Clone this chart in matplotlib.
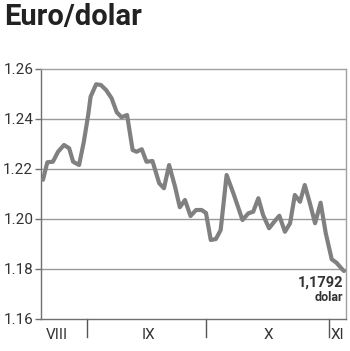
import matplotlib
matplotlib.use("Agg")
import matplotlib.pyplot as plt

# days counted from 1 August (Sep 1 = 31, Oct 1 = 61, Nov 1 = 92)
days = [19.9, 21.0, 22.4, 23.7, 25.2, 26.5, 27.5, 29.0, 30.2, 31.3, 31.9, 33.3,
        34.5, 35.8, 37.2, 38.5, 39.7, 41.1, 42.5, 43.5, 44.8, 46.0, 47.5, 49.2,
        50.4, 51.7, 53.2, 54.4, 55.7, 57.1, 58.5, 59.9, 61.0, 62.2, 63.5, 64.7,
        66.2, 67.9, 70.2, 71.7, 72.9, 74.2, 75.4, 76.9, 78.4, 79.5, 80.9, 82.2,
        83.4, 84.7, 85.9, 87.2, 88.5, 89.9, 91.2, 92.7, 93.9, 95.5, 95.8]
rates = [1.2157, 1.2227, 1.2229, 1.2269, 1.2296, 1.2283, 1.2229, 1.2216, 1.2309,
         1.2416, 1.2489, 1.2539, 1.2536, 1.2516, 1.2483, 1.2427, 1.2407, 1.2416,
         1.2276, 1.2269, 1.2279, 1.2229, 1.2232, 1.2143, 1.2123, 1.2216, 1.2129,
         1.2047, 1.2076, 1.2012, 1.2036, 1.2036, 1.2024, 1.1916, 1.1920, 1.1956,
         1.2176, 1.2103, 1.1996, 1.2023, 1.2029, 1.2083, 1.2016, 1.1963, 1.1993,
         1.2013, 1.1949, 1.1983, 1.2096, 1.2069, 1.2136, 1.2063, 1.1983, 1.2065,
         1.1943, 1.1839, 1.1825, 1.1796, 1.1792]

y_ticks = [1.16, 1.18, 1.20, 1.22, 1.24, 1.26]
month_bounds = [31, 61, 92]
month_labels = ["VIII", "IX", "X", "XI"]
month_label_pos = [23.5, 46.5, 76.8, 94.2]
last_label = "1,1792"
unit_label = "dolar"
title = "Euro/dolar"

plt.rcParams['font.family'] = ['Roboto', 'DejaVu Sans']

fig = plt.figure(figsize=(3.5, 3.51), dpi=100)
ax = fig.add_axes([41/350, 32/351, 305/350, 250/351])

ax.set_xlim(19.4, 96.3)
ax.set_ylim(1.16, 1.26)

for v in y_ticks[1:-1]:
    ax.axhline(v, color="#9a9a9a", lw=1.0, zorder=1)

ax.plot(days, rates, color="#808080", lw=3.0, solid_joinstyle="round",
        solid_capstyle="round", zorder=3)

for s in ax.spines.values():
    s.set_color("#a0a0a0")
    s.set_linewidth(1.0)
ax.spines['left'].set_color("#707070")
ax.spines['bottom'].set_color("#707070")

ax.set_yticks(y_ticks)
ax.set_yticklabels([f"{v:.2f}" for v in y_ticks])
ax.tick_params(axis='y', length=4, width=1, color="#707070", labelsize=11,
               labelcolor="#333333", pad=1.5)
ax.set_xticks([])

for b in month_bounds:
    ax.plot([b, b], [1.16, 1.1529], color="#555555", lw=1.0, clip_on=False)
for lab, p in zip(month_labels, month_label_pos):
    ax.text(p, 1.1535, lab, ha="center", va="center", fontsize=11,
            color="#333333")

ax.text(95.5, 1.1745, last_label, ha="right", va="center", fontsize=10.5,
        fontweight="bold", color="#333333")
ax.text(95.5, 1.1687, unit_label, ha="right", va="center", fontsize=9,
        fontweight="bold", color="#333333")

fig.text(4/350, 1 - 17/351, title, ha="left", va="center", fontsize=21,
         fontweight="bold", color="#222222")

fig.savefig("out.png", dpi=100)
